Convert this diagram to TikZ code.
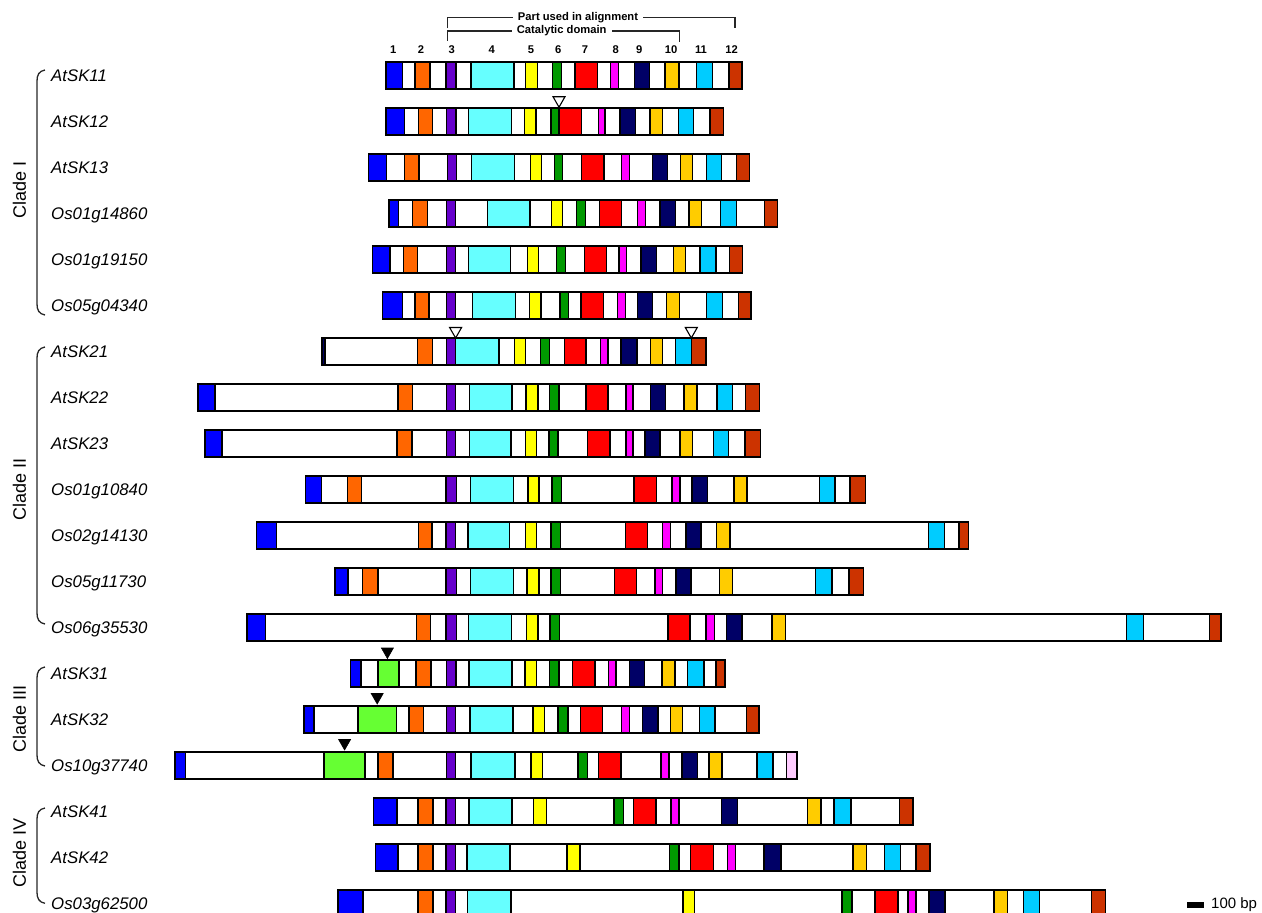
\documentclass[tikz,border=0pt]{standalone}
\usepackage{fontspec}
\setmainfont{Liberation Sans}
\definecolor{cBlue}{HTML}{0000FF}
\definecolor{cOrange}{HTML}{FF6600}
\definecolor{cPurple}{HTML}{6600CC}
\definecolor{cCyan}{HTML}{66FFFF}
\definecolor{cYellow}{HTML}{FFFF00}
\definecolor{cGreen}{HTML}{009900}
\definecolor{cRed}{HTML}{FF0000}
\definecolor{cMagenta}{HTML}{FF00FF}
\definecolor{cNavy}{HTML}{000066}
\definecolor{cGold}{HTML}{FFCC00}
\definecolor{cSky}{HTML}{00CCFF}
\definecolor{cBrown}{HTML}{CC3300}
\definecolor{cLime}{HTML}{66FF33}
\definecolor{cPink}{HTML}{FFCCFF}
\tikzset{
  barbox/.style={draw=black, line width=1.5pt},
  genelabel/.style={anchor=base west, inner sep=0pt, font=\fontsize{16.8}{19}\selectfont\itshape},
  cladelabel/.style={rotate=90, inner sep=0pt, font=\fontsize{18}{20}\selectfont},
  hdr/.style={inner ysep=0pt, inner xsep=5pt, fill=white, font=\fontsize{11.2}{13}\selectfont\bfseries},
  num/.style={anchor=base, inner sep=0pt, font=\fontsize{11.2}{13}\selectfont\bfseries},
  brk/.style={draw=black!85, line width=1.3pt},
  cladebrace/.style={draw=black!85, line width=1.3pt},
  opentri/.style={draw=black, line width=1.1pt, fill=white},
  filltri/.style={draw=black, line width=0.6pt, fill=black},
}
\newcommand\generow[6]{%
  \node[genelabel] (#1) at (51,#3+5.8) {#2};
  \draw[barbox, fill=white] (#4,#3-13.5) rectangle (#5,#3+13.5);
  \foreach \xa/\xb/\cc in {#6} {\draw[barbox, fill=\cc] (\xa,#3-13.5) rectangle (\xb,#3+13.5);}
}
\newcommand\downtri[3]{\draw[#1] (#2-6,#3) -- (#2+6,#3) -- (#2,#3+10.5) -- cycle;}
\newcommand\cladebr[2]{\draw[cladebrace] (45,#1) .. controls (39,#1+1) and (37,#1+5) .. (37,#1+11) -- (37,#2-11) .. controls (37,#2-5) and (39,#2-1) .. (45,#2);}
\begin{document}
\begin{tikzpicture}[x=1pt,y=-1pt]
\useasboundingbox (0,0) rectangle (1262,913);
% header brackets
\draw[brk] (447.3,28.3) -- (447.3,17.3) -- (735,17.3) -- (735,28.3);
\node[hdr] (pua) at (578,17.3) {Part used in alignment};
\draw[brk] (447.3,40.7) -- (447.3,31) -- (679.3,31) -- (679.3,41.7);
\node[hdr] (cat) at (561.7,31) {Catalytic domain};
\foreach \n/\xx in {1/393.3,2/421,3/451.7,4/491.7,5/531,6/558.3,7/585,8/615.7,9/639.3,10/671,11/701,12/731.7}
  {\node[num] (n\n) at (\xx,53.2) {\n};}
% rows
\generow{g1}{AtSK11}{75.5}{386}{742}{386/402.7/cBlue,415/430/cOrange,446/456/cPurple,471/514/cCyan,525.3/537.3/cYellow,552.7/561.7/cGreen,575/597.7/cRed,610.7/618.3/cMagenta,634.3/649.3/cNavy,665/679/cGold,696.7/712.7/cSky,729/742/cBrown}
\generow{g2}{AtSK12}{121.5}{386}{723.3}{386/404.3/cBlue,418.3/432.7/cOrange,446.7/456/cPurple,468.3/511.7/cCyan,524.3/536/cYellow,551/559/cGreen,559/581.7/cRed,598.3/605/cMagenta,620/635.7/cNavy,650/662.7/cGold,678.3/693.3/cSky,710/723.3/cBrown}
\generow{g3}{AtSK13}{167.5}{368.3}{749.3}{368.3/386.7/cBlue,404.3/419/cOrange,447.3/456.7/cPurple,471.7/514.3/cCyan,530.7/541.7/cYellow,554.3/562.7/cGreen,581.7/604/cRed,621.7/629.3/cMagenta,652.3/667.3/cNavy,680.7/692.7/cGold,706.7/721.7/cSky,736.7/749.3/cBrown}
\generow{g4}{Os01g14860}{213.5}{389}{777.7}{389/398.3/cBlue,412.7/427.7/cOrange,446.7/455.7/cPurple,487.3/530/cCyan,551.7/562.3/cYellow,576.7/585.7/cGreen,599.3/621.7/cRed,637.7/645.7/cMagenta,660/675.7/cNavy,689/701.7/cGold,720.7/736.7/cSky,764.3/777.7/cBrown}
\generow{g5}{Os01g19150}{259.5}{372.3}{742.3}{372.3/390/cBlue,403.3/417.7/cOrange,446.7/455.7/cPurple,468.3/510.7/cCyan,527.3/538.3/cYellow,556.7/565.7/cGreen,584.3/606.7/cRed,619/626.7/cMagenta,641/656.7/cNavy,673.3/685.7/cGold,700/716/cSky,729.3/742.3/cBrown}
\generow{g6}{Os05g04340}{305.5}{382.7}{751}{382.7/402.3/cBlue,415/429/cOrange,446.7/455.7/cPurple,472.7/515.7/cCyan,529.3/541/cYellow,560/568.3/cGreen,581/603.3/cRed,617.7/625.7/cMagenta,637.3/652.7/cNavy,666.7/679.3/cGold,706.7/722.7/cSky,738.3/751/cBrown}
\generow{g7}{AtSK21}{351.5}{322.1}{706.1}{322.1/325/cNavy,417.5/432.3/cOrange,446.4/455.6/cPurple,455.6/498.9/cCyan,514.5/525.6/cYellow,540.3/549.6/cGreen,564.4/585.9/cRed,600.7/608/cMagenta,621/636.9/cNavy,650.6/662.4/cGold,675.4/691.3/cSky,691.3/706.1/cBrown}
\generow{g8}{AtSK22}{397.5}{198.1}{759.7}{198.1/215.2/cBlue,397.9/412.7/cOrange,446.4/455.6/cPurple,469.3/511.9/cCyan,525.9/537.8/cYellow,549.6/558.8/cGreen,585.9/608/cRed,625.8/633.2/cMagenta,650.6/665.4/cNavy,683.9/696.8/cGold,717.2/732.7/cSky,745.7/759.7/cBrown}
\generow{g9}{AtSK23}{443.5}{204.8}{760.5}{204.8/222.2/cBlue,397.2/412/cOrange,446.4/455.6/cPurple,469.3/511.1/cCyan,525.6/536.7/cYellow,548.9/558.1/cGreen,587.7/609.9/cRed,625.8/632.8/cMagenta,645/659.8/cNavy,680.2/692.4/cGold,713.5/728.3/cSky,745/760.5/cBrown}
\generow{g10}{Os01g10840}{489.5}{305.3}{865.3}{305.3/321.6/cBlue,347.3/361.6/cOrange,446.1/456.3/cPurple,470.6/513.5/cCyan,527.8/539.2/cYellow,552.2/561.6/cGreen,633.9/656.3/cRed,671.8/680/cMagenta,692.2/707.3/cNavy,733.9/746.9/cGold,819.6/835.1/cSky,850.2/865.3/cBrown}
\generow{g11}{Os02g14130}{535.5}{256.3}{968.3}{256.3/276.7/cBlue,418.4/431.8/cOrange,446.1/455.5/cPurple,467.8/509.4/cCyan,525.7/536.7/cYellow,551/560.4/cGreen,625.7/647.3/cRed,662.4/670.6/cMagenta,686.1/701.2/cNavy,716.3/729.8/cGold,928.3/944.3/cSky,959/968.3/cBrown}
\generow{g12}{Os05g11730}{581.5}{335.1}{863.7}{335.1/348.2/cBlue,362.4/378/cOrange,446.1/456.3/cPurple,470.6/513.5/cCyan,526.9/538.8/cYellow,551/560.4/cGreen,614.7/636.7/cRed,655.1/662.4/cMagenta,675.9/691/cNavy,719.6/732.7/cGold,815.5/831.8/cSky,849/863.7/cBrown}
\generow{g13}{Os06g35530}{627.5}{246.9}{1221}{246.9/265.7/cBlue,416.7/430.6/cOrange,446.1/456.3/cPurple,468.6/511.4/cCyan,526.5/538/cYellow,550.2/559.6/cGreen,667.8/690.2/cRed,706.1/714.3/cMagenta,726.5/742/cNavy,771.8/785.7/cGold,1126.7/1143.3/cSky,1209.3/1221/cBrown}
\generow{g14}{AtSK31}{673.5}{350.7}{725}{350.7/360.9/cBlue,378.1/398.9/cLime,416/431.1/cOrange,446.6/456/cPurple,469.1/511.9/cCyan,525/536.4/cYellow,549.5/558.9/cGreen,572.3/594.8/cRed,608.7/616/cMagenta,629.5/644.6/cNavy,662.1/675.2/cGold,687.4/703.8/cSky,716/725/cBrown}
\generow{g15}{AtSK32}{719.5}{303.8}{758.9}{303.8/314/cBlue,358.1/396.4/cLime,409.1/423.4/cOrange,446.6/455.6/cPurple,469.9/512.8/cCyan,533.2/544.6/cYellow,558.1/567.9/cGreen,580.5/602.6/cRed,621.3/629.5/cMagenta,642.6/658.1/cNavy,670.3/682.6/cGold,699.7/715.2/cSky,746.6/758.9/cBrown}
\generow{g16}{Os10g37740}{765.5}{175.2}{796.8}{175.2/185.4/cBlue,324.2/365/cLime,378.1/392.8/cOrange,446.6/455.6/cPurple,471.1/514.8/cCyan,531.1/542.6/cYellow,578.1/587.4/cGreen,598.5/620.9/cRed,660.9/669.1/cMagenta,682.1/697.7/cNavy,709.1/722.1/cGold,756.8/773.2/cSky,786.6/796.8/cPink}
\generow{g17}{AtSK41}{811.5}{373.5}{913.2}{373.5/397.2/cBlue,417.8/432.8/cOrange,445.9/455.7/cPurple,469.2/511.9/cCyan,533.6/546.3/cYellow,613.9/623.4/cGreen,633.7/656.2/cRed,670.8/678.8/cMagenta,721.5/737.3/cNavy,807.7/821.1/cGold,834.1/850.8/cSky,899.4/913.2/cBrown}
\generow{g18}{AtSK42}{857.5}{375.5}{929.8}{375.5/398/cBlue,417.8/432.8/cOrange,445.9/455.7/cPurple,467.2/509.9/cCyan,567.2/579.9/cYellow,669.3/678.8/cGreen,690.6/713.6/cRed,727.4/735.3/cMagenta,764.2/780.8/cNavy,853.1/866.6/cGold,884.4/900.6/cSky,916/929.8/cBrown}
\generow{g19}{Os03g62500}{903.5}{337.9}{1105.7}{337.9/362.8/cBlue,417.8/432.8/cOrange,445.9/455.7/cPurple,467.6/511.1/cCyan,683.1/694.6/cYellow,842.1/852/cGreen,874.9/898.2/cRed,908.1/916/cMagenta,929/944.9/cNavy,994/1007.7/cGold,1023.3/1039.3/cSky,1091.7/1105.7/cBrown}
% triangles
\downtri{opentri}{559}{96.7}
\downtri{opentri}{455.6}{327.5}
\downtri{opentri}{691.3}{327.5}
\downtri{filltri}{387.4}{648}
\downtri{filltri}{377.2}{693.5}
\downtri{filltri}{344.6}{739.5}
% clade braces and labels
\cladebr{70}{315}
\cladebr{347}{624}
\cladebr{667}{766}
\cladebr{808}{903.3}
\node[cladelabel] (c1) at (19.5,190) {Clade I};
\node[cladelabel] (c2) at (19.5,489) {Clade II};
\node[cladelabel] (c3) at (19.5,719) {Clade III};
\node[cladelabel] (c4) at (19.5,852.5) {Clade IV};
% scale bar
\fill[black] (1186.7,902.3) rectangle (1204.3,907.7);
\node[anchor=west, inner sep=0pt, font=\fontsize{15}{17}\selectfont] (scale) at (1211,905) {100 bp};
\end{tikzpicture}
\end{document}
